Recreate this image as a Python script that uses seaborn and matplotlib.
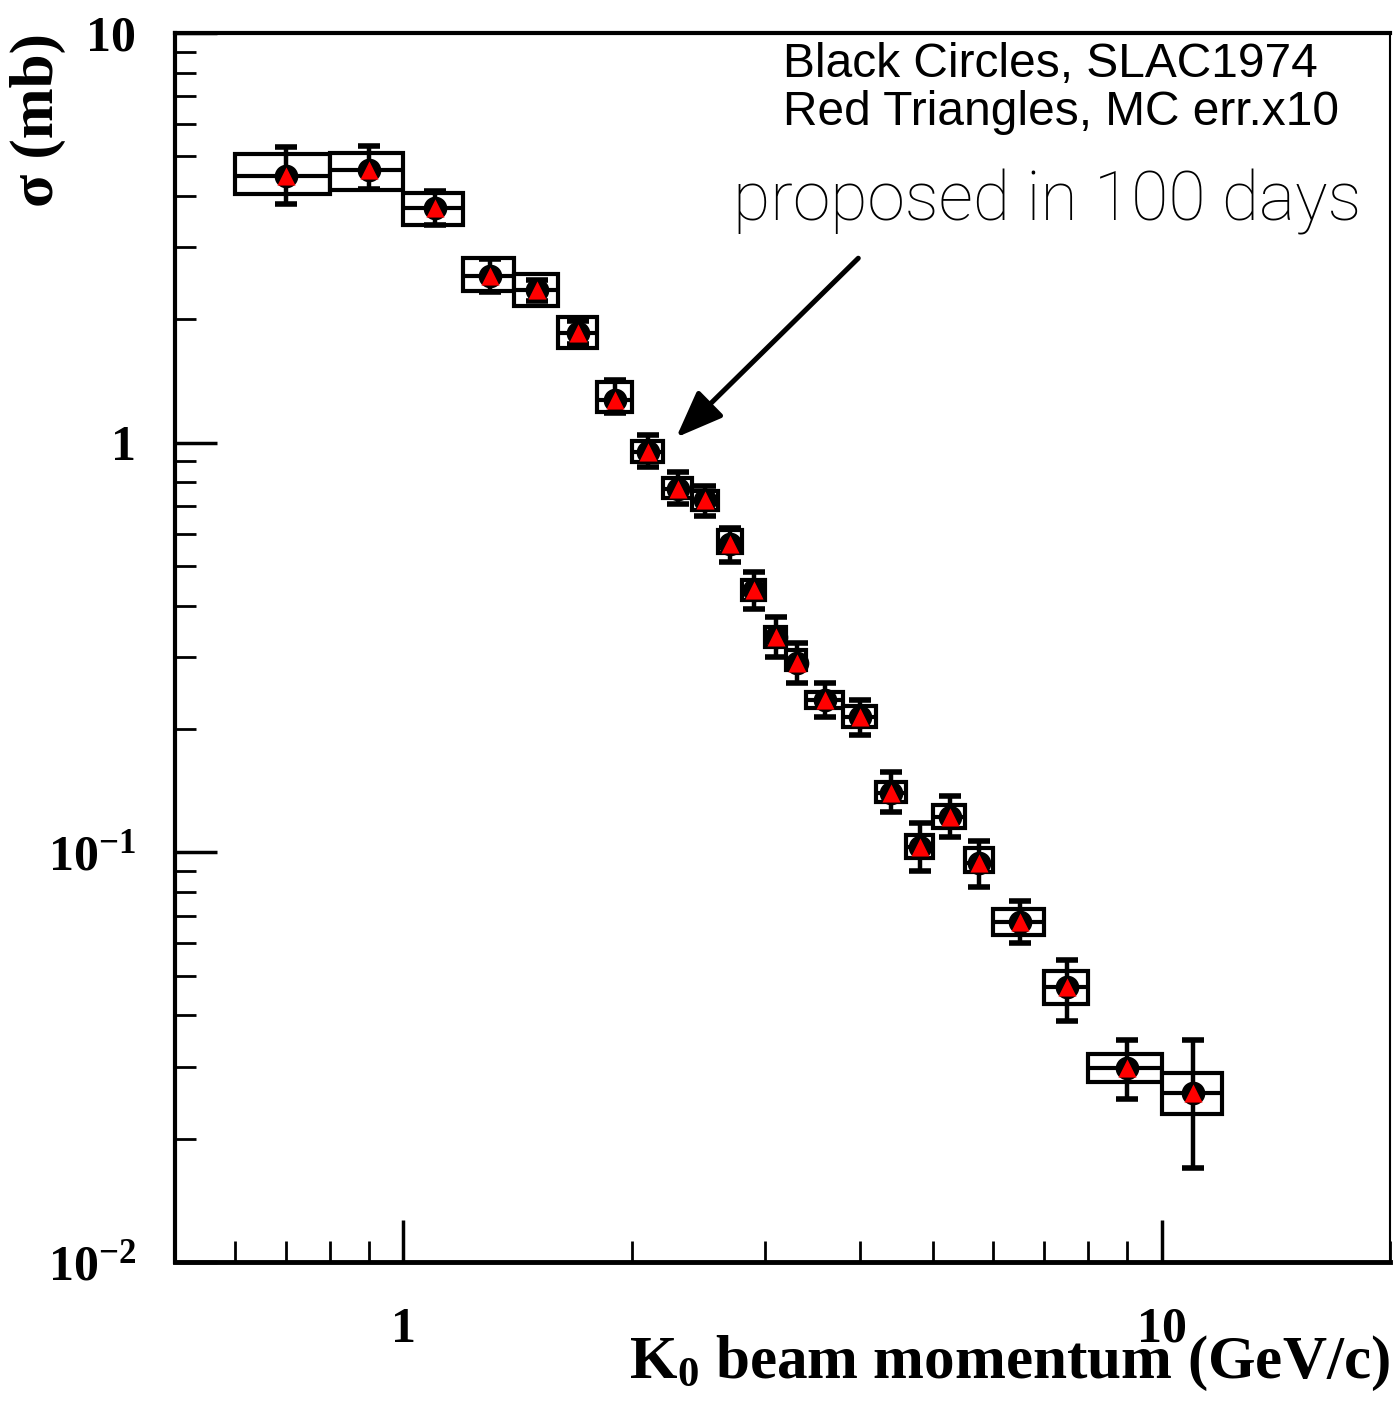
import numpy as np
import pandas as pd
import matplotlib
matplotlib.use("Agg")
import matplotlib.pyplot as plt
from matplotlib.patches import Rectangle
from matplotlib.ticker import LogLocator, NullFormatter
import seaborn as sns

# K0 beam momentum bins (GeV/c)
p = [0.7, 0.9, 1.1, 1.3, 1.5, 1.7, 1.9, 2.1, 2.3, 2.5, 2.7, 2.9, 3.1, 3.3,
     3.6, 4.0, 4.4, 4.8, 5.25, 5.75, 6.5, 7.5, 9.0, 11.0]
p_lo = [0.6, 0.8, 1.0, 1.2, 1.4, 1.6, 1.8, 2.0, 2.2, 2.4, 2.6, 2.8, 3.0, 3.2,
        3.4, 3.8, 4.2, 4.6, 5.0, 5.5, 6.0, 7.0, 8.0, 10.0]
p_hi = [0.8, 1.0, 1.2, 1.4, 1.6, 1.8, 2.0, 2.2, 2.4, 2.6, 2.8, 3.0, 3.2, 3.4,
        3.8, 4.2, 4.6, 5.0, 5.5, 6.0, 7.0, 8.0, 10.0, 12.0]

# SLAC 1974 cross section (mb)
sigma = [4.48, 4.63, 3.74, 2.55, 2.36, 1.85, 1.27, 0.949, 0.771, 0.725, 0.566,
         0.437, 0.336, 0.290, 0.236, 0.214, 0.140, 0.103, 0.122, 0.094,
         0.0676, 0.0469, 0.0298, 0.0259]
err_lo = [3.82, 4.16, 3.40, 2.33, 2.22, 1.74, 1.18, 0.872, 0.709, 0.662, 0.511,
          0.393, 0.300, 0.259, 0.214, 0.193, 0.1255, 0.0901, 0.109, 0.0823,
          0.0601, 0.0388, 0.0250, 0.0170]
err_hi = [5.27, 5.30, 4.12, 2.80, 2.50, 1.98, 1.42, 1.044, 0.848, 0.784, 0.619,
          0.484, 0.3755, 0.324, 0.259, 0.2355, 0.157, 0.118, 0.1373, 0.1066,
          0.0761, 0.0546, 0.0348, 0.0348]

# MC expectation (err x10) boxes
mc_sigma = [4.48, 4.63, 3.74, 2.55, 2.36, 1.85, 1.27, 0.949, 0.771, 0.725, 0.566,
            0.437, 0.336, 0.290, 0.236, 0.214, 0.140, 0.103, 0.122, 0.094,
            0.0676, 0.0469, 0.0298, 0.0259]
mc_lo = [4.05, 4.14, 3.40, 2.35, 2.16, 1.70, 1.19, 0.897, 0.733, 0.685, 0.538,
         0.413, 0.317, 0.279, 0.225, 0.202, 0.133, 0.0969, 0.1147, 0.0896,
         0.0629, 0.0427, 0.0275, 0.0230]
mc_hi = [5.07, 5.09, 4.07, 2.82, 2.58, 2.03, 1.41, 1.01, 0.820, 0.762, 0.612,
         0.462, 0.355, 0.312, 0.246, 0.228, 0.1485, 0.110, 0.1305, 0.1025,
         0.0728, 0.0513, 0.0322, 0.0289]

ytick_vals = [0.01, 0.1, 1, 10]
ytick_labels = ["10$^{-2}$", "10$^{-1}$", "1", "10"]
xtick_vals = [1, 10]
xtick_labels = ["1", "10"]

sns.set_theme(style="white")
plt.rcParams["font.family"] = ["Liberation Serif", "DejaVu Serif"]
plt.rcParams["font.weight"] = "bold"
plt.rcParams["text.color"] = "black"
plt.rcParams["axes.labelcolor"] = "black"
plt.rcParams["xtick.color"] = "black"
plt.rcParams["ytick.color"] = "black"
plt.rcParams["mathtext.fontset"] = "custom"
plt.rcParams["mathtext.rm"] = "Liberation Serif:bold"
plt.rcParams["mathtext.it"] = "Liberation Serif:bold"
plt.rcParams["mathtext.bf"] = "Liberation Serif:bold"
plt.rcParams["mathtext.default"] = "rm"

fig = plt.figure(figsize=(13.99, 14.04), dpi=100)
ax = fig.add_axes([0.1251, 0.1011, 0.8685, 0.8754])
ax.set_xscale("log")
ax.set_yscale("log")

# boxes (white fill) with a horizontal bin line
for x0, x1, y0, y1 in zip(p_lo, p_hi, mc_lo, mc_hi):
    ax.add_patch(Rectangle((x0, y0), x1 - x0, y1 - y0, facecolor="white",
                           edgecolor="black", lw=3, zorder=2))
ax.hlines(mc_sigma, p_lo, p_hi, color="black", lw=3, zorder=3)

sig = np.array(sigma)
yerr = [sig - np.array(err_lo), np.array(err_hi) - sig]
ax.errorbar(p, sigma, yerr=yerr, fmt="none", ecolor="black", elinewidth=3.2,
            capsize=8, capthick=4, zorder=4)

df = pd.DataFrame({"p": p, "sigma": sigma, "mc": mc_sigma})
sns.scatterplot(data=df, x="p", y="sigma", marker="o", s=290, color="black",
                linewidth=0, ax=ax, zorder=5)
sns.scatterplot(data=df, x="p", y="mc", marker="^", s=170, color="red",
                linewidth=0, ax=ax, zorder=6)

ax.set_xlim(0.5, 20)
ax.set_ylim(0.01, 10)

ax.set_xticks(xtick_vals)
ax.set_xticklabels(xtick_labels)
ax.set_yticks(ytick_vals)
ax.set_yticklabels(ytick_labels)
ax.xaxis.set_minor_locator(LogLocator(base=10, subs=range(2, 10)))
ax.yaxis.set_minor_locator(LogLocator(base=10, subs=range(2, 10)))
ax.xaxis.set_minor_formatter(NullFormatter())
ax.yaxis.set_minor_formatter(NullFormatter())
ax.tick_params(which="both", direction="in", bottom=True, left=True,
               top=False, right=False, colors="black")
ax.tick_params(which="major", length=30, width=2.5, labelsize=36)
ax.tick_params(which="minor", length=15, width=2)
ax.tick_params(axis="x", which="major", pad=32)
ax.tick_params(axis="y", which="major", pad=28)

for side, lw in [("left", 3), ("bottom", 3.5), ("top", 3), ("right", 1.5)]:
    ax.spines[side].set_linewidth(lw)
    ax.spines[side].set_color("black")

ax.set_xlabel("K$_{0}$ beam momentum (GeV/c)", fontsize=44, fontweight="bold",
              loc="right", color="black")
ax.xaxis.set_label_coords(1.0, -0.058)
ax.set_ylabel("σ (mb)", fontsize=44, fontweight="bold", loc="top", color="black")
ax.yaxis.set_label_coords(-0.09, 1.0)

ax.text(0.5004, 0.9642, "Black Circles, SLAC1974", transform=ax.transAxes,
        family="Liberation Sans", fontweight="normal", fontsize=34.5,
        va="baseline", ha="left", color="black")
ax.text(0.5004, 0.9251, "Red Triangles, MC err.x10", transform=ax.transAxes,
        family="Liberation Sans", fontweight="normal", fontsize=34.5,
        va="baseline", ha="left", color="black")
ax.text(0.4593, 0.8478, "proposed in 100 days", transform=ax.transAxes,
        family="Roboto", fontweight="light", fontsize=49,
        va="baseline", ha="left", color="black")

ax.annotate("", xy=(2.29, 1.03), xytext=(3.98, 2.82),
            arrowprops=dict(arrowstyle="-|>,head_length=1.15,head_width=0.45",
                            lw=3.6, color="black", mutation_scale=25,
                            shrinkA=0, shrinkB=0))

fig.savefig("out.png", dpi=100)
